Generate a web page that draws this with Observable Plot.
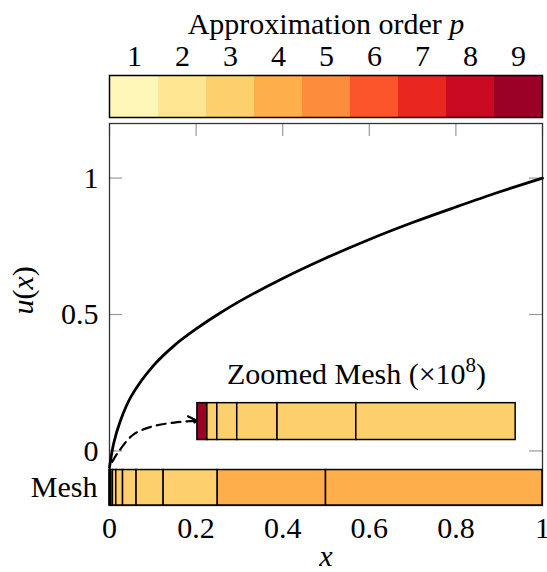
<!DOCTYPE html>
<html>
<head>
<meta charset="utf-8">
<script src="https://cdn.jsdelivr.net/npm/d3@7"></script>
<script src="https://cdn.jsdelivr.net/npm/@observablehq/plot@0.6"></script>
<style>
  html, body { margin: 0; padding: 0; background: white; }
  #chart { position: relative; width: 547px; height: 572px; }
  #chart svg { position: absolute; left: 0; top: 0; }
</style>
</head>
<body>
<div id="chart"></div>
<script>
// ---- data ----
const orders = [1, 2, 3, 4, 5, 6, 7, 8, 9];
const orderColors = ["#fff7b8", "#ffe692", "#fed06d", "#feae4a", "#fd8d3c", "#fc552c", "#e9261f", "#ca0923", "#9b0026"];
const xTicks = [0, 0.2, 0.4, 0.6, 0.8, 1];
const yTicks = [0, 0.5, 1];

const curveX = [0, 0.01, 0.025, 0.05, 0.1, 0.15, 0.2, 0.25, 0.3, 0.4, 0.5, 0.6, 0.7, 0.8, 0.9, 1];
const curveU = [-0.06, 0.03, 0.11, 0.2, 0.31, 0.387, 0.447, 0.5, 0.548, 0.632, 0.707, 0.775, 0.837, 0.894, 0.949, 1];

const arrowX = [0.006, 0.02, 0.055, 0.1, 0.15, 0.197];
const arrowU = [-0.04, -0.005, 0.06, 0.09, 0.104, 0.11];

const meshEdges = [0, 0.000977, 0.00195, 0.0039, 0.0078, 0.0156, 0.03125, 0.0625, 0.125, 0.25, 0.5, 1];
const meshOrders = [9, 3, 3, 3, 3, 3, 3, 3, 3, 4, 4];
const meshBand = [-0.2, -0.07];

const zoomEdges = [0.203, 0.226, 0.249, 0.295, 0.388, 0.570, 0.938];
const zoomOrders = [9, 3, 3, 3, 3, 3];
const zoomBand = [0.04, 0.175];

// ---- derived tables ----
const colorOf = p => orderColors[p - 1];
const curve = curveX.map((x, i) => ({x, u: curveU[i]}));
const arrowPath = arrowX.map((x, i) => ({x, u: arrowU[i]}));
const meshCells = meshOrders.map((p, i) => ({x1: meshEdges[i], x2: meshEdges[i + 1], y1: meshBand[0], y2: meshBand[1], p}));
const zoomCells = zoomOrders.map((p, i) => ({x1: zoomEdges[i], x2: zoomEdges[i + 1], y1: zoomBand[0], y2: zoomBand[1], p}));

const font = {fontFamily: "'Liberation Serif', 'DejaVu Serif', serif", fontSize: "30px", background: "transparent"};

function richify(svg, plain, html) {
  svg.querySelectorAll("text").forEach(t => { if (t.textContent === plain) t.innerHTML = html; });
}

// ---- main plot ----
const main = Plot.plot({
  width: 547,
  height: 572,
  marginTop: 123,
  marginBottom: 67,
  marginLeft: 109,
  marginRight: 5,
  style: {...font, background: "white"},
  x: {domain: [0, 1], nice: false},
  y: {domain: [-0.2, 1.2], nice: false},
  marks: [
    Plot.axisX({ticks: xTicks, tickSize: 0, tickPadding: 11, tickFormat: d => String(d), label: null}),
    Plot.axisY({ticks: yTicks, tickSize: 0, tickPadding: 11, tickFormat: d => String(d), label: null}),
    Plot.ruleX(xTicks, {x: d => d, insetBottom: 369, stroke: "#9a9a9a", strokeWidth: 1.2}),
    Plot.ruleY(yTicks, {y: d => d, insetRight: 420, stroke: "#9a9a9a", strokeWidth: 1.2}),
    Plot.ruleY(yTicks, {y: d => d, insetLeft: 420, stroke: "#9a9a9a", strokeWidth: 1.2}),
    Plot.frame({stroke: "#333", strokeWidth: 1.3}),
    Plot.line(curve, {x: "x", y: "u", stroke: "black", strokeWidth: 2.8, curve: "catmull-rom"}),
    Plot.line(arrowPath, {x: "x", y: "u", stroke: "black", strokeWidth: 2.2, strokeDasharray: "9,6", curve: "catmull-rom", markerEnd: "arrow"}),
    Plot.rect(meshCells, {x1: "x1", x2: "x2", y1: "y1", y2: "y2", fill: d => colorOf(d.p), stroke: "black", strokeWidth: 1.5}),
    Plot.rect(zoomCells, {x1: "x1", x2: "x2", y1: "y1", y2: "y2", fill: d => colorOf(d.p), stroke: "black", strokeWidth: 1.5}),
    Plot.text([{label: "Mesh", y: (meshBand[0] + meshBand[1]) / 2}], {frameAnchor: "left", y: "y", text: "label", textAnchor: "end", dx: -12}),
    Plot.text([{label: "Zoomed Mesh (×108)", x: (zoomEdges[0] + zoomEdges[zoomEdges.length - 1]) / 2, y: zoomBand[1]}],
      {x: "x", y: "y", text: "label", lineAnchor: "bottom", dy: -19}),
    Plot.text(["x"], {frameAnchor: "bottom", text: d => d, lineAnchor: "bottom", dy: 60, fontStyle: "italic"}),
    Plot.text(["u(x)"], {frameAnchor: "left", text: d => d, rotate: -90, lineAnchor: "bottom", dx: -77})
  ]
});
richify(main, "u(x)", '<tspan font-style="italic">u</tspan>(<tspan font-style="italic">x</tspan>)');
richify(main, "Zoomed Mesh (×108)", 'Zoomed Mesh (×10<tspan font-size="21px" dy="-12">8</tspan><tspan dy="12">)</tspan>');
main.querySelectorAll("marker path").forEach(p => p.setAttribute("d", "M-4.5,-3.4L1.5,0L-4.5,3.4"));

// ---- colorbar (legend above the plot) ----
const colorbar = Plot.plot({
  width: 547,
  height: 120,
  marginTop: 75,
  marginBottom: 3,
  marginLeft: 109,
  marginRight: 5,
  style: font,
  x: {type: "band", domain: orders, padding: 0},
  color: {type: "identity"},
  marks: [
    Plot.cell(orders, {x: d => d, fill: d => colorOf(d)}),
    Plot.frame({stroke: "black", strokeWidth: 1.5}),
    Plot.axisX({anchor: "top", tickSize: 0, tickPadding: 10, label: null}),
    Plot.text(["Approximation order p"], {frameAnchor: "top", text: d => d, lineAnchor: "bottom", dy: -42})
  ]
});
richify(colorbar, "Approximation order p", 'Approximation order <tspan font-style="italic">p</tspan>');

const chart = document.getElementById("chart");
chart.append(main, colorbar);
</script>
</body>
</html>
